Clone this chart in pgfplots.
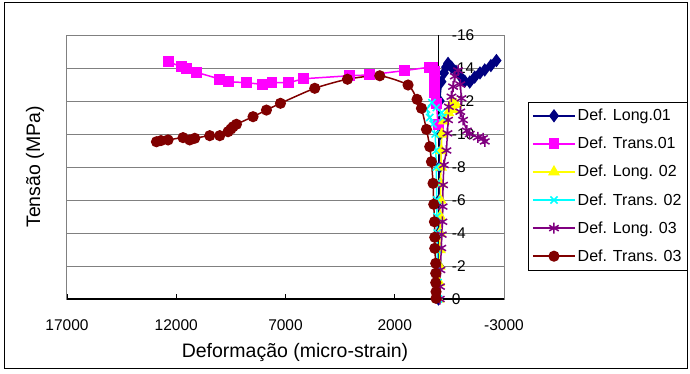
\documentclass[border=0pt]{standalone}
\usepackage{pgfplots}
\pgfplotsset{compat=1.18}
\usepackage{fontspec}
\setmainfont{Liberation Sans}
\definecolor{cnavy}{RGB}{0,0,128}
\definecolor{cmag}{RGB}{255,0,255}
\definecolor{cyel}{RGB}{255,255,0}
\definecolor{ccyan}{RGB}{0,255,255}
\definecolor{cpur}{RGB}{128,0,128}
\definecolor{cdred}{RGB}{128,0,0}
\definecolor{cgrid}{RGB}{128,128,128}
\begin{document}
\begin{tikzpicture}[x=1pt,y=1pt]
\useasboundingbox (0,0) rectangle (690,-374);
\draw[black, line width=1pt] (4,-3) rectangle (687,-368);
\begin{axis}[
  at={(67pt,-299pt)}, anchor=south west,
  scale only axis, width=437pt, height=264pt,
  x dir=reverse, y dir=reverse,
  xmin=-3000, xmax=17000, ymin=-16, ymax=0,
  xtick={-3000,2000,7000,12000,17000},
  ytick={-16,-14,-12,-10,-8,-6,-4,-2,0},
  scaled x ticks=false, scaled y ticks=false,
  /pgf/number format/assume math mode=true,
  /pgf/number format/1000 sep={},
  ymajorgrids,
  major grid style={cgrid, line width=1pt},
  axis line style={cgrid, line width=1pt},
  xtick pos=bottom,
  xtick style={black, line width=0.8pt},
  tick align=inside,
  major tick length=5pt,
  ytick style={draw=none},
  extra x ticks={0}, extra x tick labels={},
  extra x tick style={grid=major, major grid style={black, line width=1pt}, tick style={draw=none}},
  extra y ticks={0}, extra y tick labels={},
  extra y tick style={grid=major, major grid style={black, line width=1.2pt}},
  tick label style={font=\fontsize{15.5}{18}\selectfont},
  xticklabel style={anchor=center, yshift=-26pt},
  yticklabel style={anchor=west, inner sep=0pt, xshift=384.7pt},
  legend style={at={(axis description cs:1.055,0.746)}, anchor=north west, draw=black, fill=white,
    font=\fontsize{16}{19}\selectfont, row sep=11pt, inner xsep=4pt, inner ysep=5pt,
    cells={anchor=west}},
  legend image code/.code={\draw[mark repeat=2, mark phase=2] plot coordinates {(0pt,0pt) (21pt,0pt) (42pt,0pt)};},
  every axis plot/.append style={line width=1.5pt},
  clip=false,
]
\addplot[cnavy, mark=diamond*, mark size=5.5pt] coordinates {
(0,0) (-20,-2) (-30,-4) (-40,-6) (-50,-8) (-55,-10) (-59,-12.0) (-137,-13.17) (-250,-13.7) (-350,-14.05) (-439,-14.28) (-600,-14.05) (-800,-13.8) (-1000,-13.5) (-1204,-13.2) (-1432,-13.15) (-1661,-13.45) (-1900,-13.7) (-2119,-13.88) (-2400,-14.15) (-2654,-14.45)
};
\addlegendentry{Def. Long.01}
\addplot[cmag, mark=square*, mark size=4.7pt] coordinates {
(18,-10.55) (92,-11.86) (170,-12.5) (170,-13.2) (180,-13.8) (250,-14.05) (398,-14.05) (1574,-13.84) (3176,-13.58) (4091,-13.53) (6165,-13.35) (6851,-13.11) (7616,-13.11) (8073,-13.01) (8787,-13.11) (9597,-13.17) (10009,-13.33) (11075,-13.74) (11533,-13.98) (11762,-14.08) (12375,-14.38)
};
\addlegendentry{Def. Trans.01}
\addplot[cyel, mark=triangle*, mark size=5.5pt] coordinates {
(0,0) (-30,-1) (-50,-2) (-60,-3) (-70,-4) (-80,-5) (-90,-6) (-100,-7) (-110,-8) (-130,-9) (-160,-10) (-250,-10.8) (-450,-11.3) (-700,-11.5) (-800,-11.8) (-650,-11.95)
};
\addlegendentry{Def. Long. 02}
\addplot[ccyan, mark=x, mark size=5pt] coordinates {
(0,0) (20,-1) (40,-2) (50,-3) (60,-4) (70,-5) (80,-6) (90,-7) (100,-8) (120,-9) (150,-10) (250,-10.6) (400,-11.0) (550,-11.5) (300,-11.9) (100,-11.6) (-150,-11.3) (-200,-11.0)
};
\addlegendentry{Def. Trans. 02}
\addplot[cpur, mark=asterisk, mark size=5.5pt] coordinates {
(-60,0) (-70,-0.75) (-90,-1.76) (-130,-3.09) (-150,-3.9) (-180,-4.68) (-190,-5.6) (-210,-6.91) (-250,-8.12) (-366,-9.0) (-412,-10.04) (-439,-10.85) (-480,-11.65) (-595,-12.26) (-668,-12.87) (-750,-13.5) (-897,-13.85) (-1000,-13.0) (-1053,-12.16) (-1000,-11.35) (-1126,-10.85) (-1300,-10.2) (-1432,-10.0) (-1800,-9.8) (-2041,-9.74) (-2119,-9.55)
};
\addlegendentry{Def. Long. 03}
\addplot[cdred, mark=*, mark size=4.8pt, smooth, tension=0.4] coordinates {
(110,-0.04) (110,-0.44) (124,-0.99) (124,-1.56) (124,-2.16) (169,-3.07) (169,-3.74) (183,-4.68) (215,-5.74) (247,-7.01) (320,-8.32) (398,-9.23) (549,-10.28) (778,-11.56) (979,-12.10) (1391,-12.97) (2686,-13.53) (4165,-13.32) (5661,-12.77) (7231,-11.86) (7872,-11.45) (8485,-11.05) (9245,-10.59) (9400,-10.44) (9500,-10.3) (9629,-10.14) (10009,-9.90) (10467,-9.90) (11153,-9.74) (11382,-9.64) (11689,-9.78) (12375,-9.64) (12700,-9.6) (12906,-9.53)
};
\addlegendentry{Def. Trans. 03}
\end{axis}
\node[font=\fontsize{19.5}{22}\selectfont] at (295,-352) {Deformação (micro-strain)};
\node[font=\fontsize{19.5}{22}\selectfont, rotate=90] at (35,-167) {Tensão (MPa)};
\end{tikzpicture}
\end{document}
